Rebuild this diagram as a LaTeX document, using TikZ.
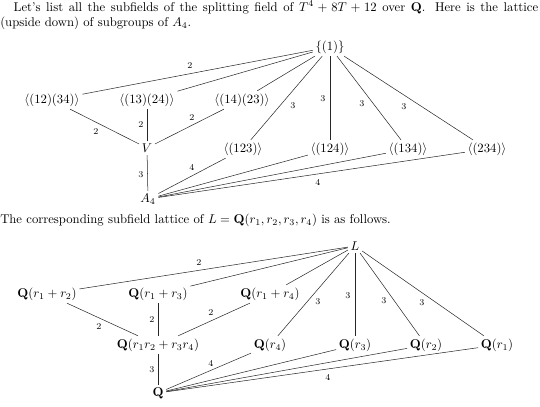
\documentclass[tikz,border=0pt]{standalone}
\usepackage{amsmath,amssymb}
\begin{document}
\begin{tikzpicture}[x=0.787pt,y=-0.787pt,
  vx/.style={inner sep=2pt},
  lbl/.style={font=\scriptsize, inner sep=0pt},
  ln/.style={draw=black!85, line width=0.4pt},
  para/.style={anchor=north west, inner sep=0pt, text width=423.4pt, align=justify, font=\normalsize}]
\useasboundingbox (0,0) rectangle (540,407);
% top paragraph
\node[para] (p1) at (0,1) {\setlength{\parindent}{10.5pt}\indent Let's list all the subfields of the splitting field of $T^4+8T+12$ over $\mathbf{Q}$. Here is the lattice\linebreak (upside down) of subgroups of $A_4$.};
% top lattice
\node[vx] (e) at (330,47) {$\{(1)\}$};
\node[vx] (a) at (52,100) {$\langle(12)(34)\rangle$};
\node[vx] (b) at (147,100) {$\langle(13)(24)\rangle$};
\node[vx] (c) at (242,100) {$\langle(14)(23)\rangle$};
\node[vx] (V) at (147,148) {$V$};
\node[vx] (A) at (148,199) {$A_4$};
\node[vx] (t1) at (243,149) {$\langle(123)\rangle$};
\node[vx] (t2) at (330,149) {$\langle(124)\rangle$};
\node[vx] (t3) at (408,149) {$\langle(134)\rangle$};
\node[vx] (t4) at (487,149) {$\langle(234)\rangle$};
\draw[ln] (e) -- (a);
\draw[ln] (e) -- (b);
\draw[ln] (e) -- (c);
\draw[ln] (e) -- (t1);
\draw[ln] (e) -- (t2);
\draw[ln] (e) -- (t3);
\draw[ln] (e) -- (t4);
\draw[ln] (a) -- (V);
\draw[ln] (b) -- (V);
\draw[ln] (c) -- (V);
\draw[ln] (V) -- (A);
\draw[ln] (A) -- (t1);
\draw[ln] (A) -- (t2);
\draw[ln] (A) -- (t3);
\draw[ln] (A) -- (t4);
\node[lbl] (la1) at (190,66) {2};
\node[lbl] (la2) at (96,132) {2};
\node[lbl] (la3) at (141,125) {2};
\node[lbl] (la4) at (192,118) {2};
\node[lbl] (la5) at (141,175) {3};
\node[lbl] (la6) at (192,168) {4};
\node[lbl] (la7) at (293,106) {3};
\node[lbl] (la8) at (323,99) {3};
\node[lbl] (la9) at (362,104) {3};
\node[lbl] (la10) at (404,107) {3};
\node[lbl] (la11) at (318,183) {4};
% middle paragraph
\node[para] (p2) at (0,214) {The corresponding subfield lattice of $L=\mathbf{Q}(r_1,r_2,r_3,r_4)$ is as follows.};
% bottom lattice
\node[vx] (L) at (355,246) {$L$};
\node[vx] (s12) at (47,294) {$\mathbf{Q}(r_1+r_2)$};
\node[vx] (s13) at (158,294) {$\mathbf{Q}(r_1+r_3)$};
\node[vx] (s14) at (270,294) {$\mathbf{Q}(r_1+r_4)$};
\node[vx] (m) at (158,345) {$\mathbf{Q}(r_1r_2+r_3r_4)$};
\node[vx] (Q) at (158,393) {$\mathbf{Q}$};
\node[vx] (q4) at (270,345) {$\mathbf{Q}(r_4)$};
\node[vx] (q3) at (355,345) {$\mathbf{Q}(r_3)$};
\node[vx] (q2) at (426,345) {$\mathbf{Q}(r_2)$};
\node[vx] (q1) at (497,345) {$\mathbf{Q}(r_1)$};
\draw[ln] (L) -- (s12);
\draw[ln] (L) -- (s13);
\draw[ln] (L) -- (s14);
\draw[ln] (L) -- (q4);
\draw[ln] (L) -- (q3);
\draw[ln] (L) -- (q2);
\draw[ln] (L) -- (q1);
\draw[ln] (s12) -- (m);
\draw[ln] (s13) -- (m);
\draw[ln] (s14) -- (m);
\draw[ln] (m) -- (Q);
\draw[ln] (Q) -- (q4);
\draw[ln] (Q) -- (q3);
\draw[ln] (Q) -- (q2);
\draw[ln] (Q) -- (q1);
\node[lbl] (lb1) at (199,263) {2};
\node[lbl] (lb2) at (99,327) {2};
\node[lbl] (lb3) at (152,320) {2};
\node[lbl] (lb4) at (211,313) {2};
\node[lbl] (lb5) at (152,370) {3};
\node[lbl] (lb6) at (211,363) {4};
\node[lbl] (lb7) at (318,302) {3};
\node[lbl] (lb8) at (348,296) {3};
\node[lbl] (lb9) at (384,301) {3};
\node[lbl] (lb10) at (422,303) {3};
\node[lbl] (lb11) at (328,377) {4};
\end{tikzpicture}
\end{document}
